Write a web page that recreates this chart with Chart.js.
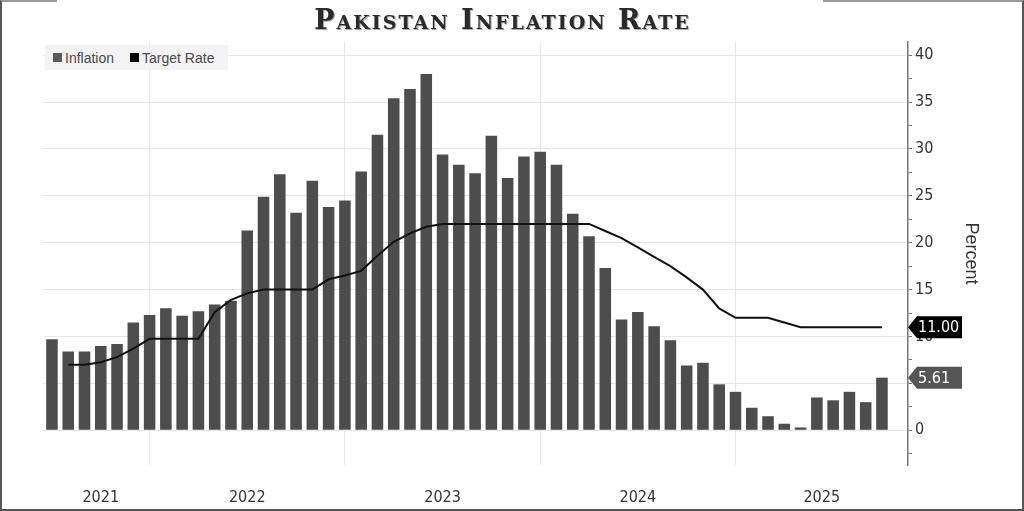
<!DOCTYPE html>
<html>
<head>
<meta charset="utf-8">
<title>Pakistan Inflation Rate</title>
<script src="https://cdn.jsdelivr.net/npm/chart.js@4.4.1/dist/chart.umd.min.js"></script>
<style>
  html, body { margin: 0; padding: 0; background: #fff; }
  #wrap { position: relative; width: 1024px; height: 511px; overflow: hidden; }
  #frame {
    position: absolute; left: 0; top: 0; width: 1024px; height: 511px; box-sizing: border-box;
    border: 2px solid #555; border-top-color: #999; pointer-events: none;
  }
  #gap { position: absolute; left: 57px; top: 0; width: 766px; height: 3px; background: #fff; }
  #title {
    position: absolute; left: 0; top: 4px; width: 1005px; text-align: center;
    font: bold 27px 'DejaVu Serif', serif; font-variant: small-caps; color: #2a2a2a;
    letter-spacing: 2px; text-shadow: 1px 1px 0 #aaa;
  }
  #legend {
    position: absolute; left: 45px; top: 45px; width: 183px; height: 25px;
    background: #f3f3f3; font: 14px 'Liberation Sans', Arial, sans-serif; color: #4a4a4a;
    display: flex; align-items: center;
  }
  #legend span.sw { display: inline-block; width: 9px; height: 9px; margin: 0 3px 0 8px; }
</style>
</head>
<body>
<div id="wrap">
  <canvas id="chart"></canvas>
  <div id="title">Pakistan Inflation Rate</div>
  <div id="legend">
    <span class="sw" style="background:#5a5a5a"></span>Inflation
    <span class="sw" style="background:#000; margin-left:16px"></span>Target Rate
  </div>
  <div id="frame"></div>
  <div id="gap"></div>
</div>
<script>
const months = [
  '2021-06', '2021-07', '2021-08', '2021-09', '2021-10', '2021-11', '2021-12',
  '2022-01', '2022-02', '2022-03', '2022-04', '2022-05', '2022-06', '2022-07', '2022-08', '2022-09', '2022-10', '2022-11', '2022-12',
  '2023-01', '2023-02', '2023-03', '2023-04', '2023-05', '2023-06', '2023-07', '2023-08', '2023-09', '2023-10', '2023-11', '2023-12',
  '2024-01', '2024-02', '2024-03', '2024-04', '2024-05', '2024-06', '2024-07', '2024-08', '2024-09', '2024-10', '2024-11', '2024-12',
  '2025-01', '2025-02', '2025-03', '2025-04', '2025-05', '2025-06', '2025-07', '2025-08', '2025-09'
];

// YoY CPI, percent
const inflation = [
  9.7, 8.4, 8.4, 9.0, 9.2, 11.5, 12.3,
  13.0, 12.2, 12.7, 13.4, 13.8, 21.3, 24.9, 27.3, 23.2, 26.6, 23.8, 24.5,
  27.6, 31.5, 35.4, 36.4, 38.0, 29.4, 28.3, 27.4, 31.4, 26.9, 29.2, 29.7,
  28.3, 23.1, 20.7, 17.3, 11.8, 12.6, 11.1, 9.6, 6.9, 7.2, 4.9, 4.1,
  2.4, 1.5, 0.7, 0.3, 3.5, 3.2, 4.1, 3.0, 5.61
];

// SBP policy rate, percent
const targetRate = [
  null, 7.0, 7.0, 7.25, 7.8, 8.7, 9.75,
  9.75, 9.75, 9.75, 12.6, 13.9, 14.6, 15, 15, 15, 15, 16.1, 16.5,
  17, 18.6, 20.1, 21, 21.7, 22, 22, 22, 22, 22, 22, 22,
  22, 22, 22, 21.25, 20.5, 19.5, 18.5, 17.5, 16.3, 15, 13, 12,
  12, 12, 11.5, 11, 11, 11, 11, 11, 11
];

const xMin = -0.55, xMax = 52.6;

// year boundaries sit on the December bars
const decIdx = months.map((m, i) => m.endsWith('-12') ? i : -1).filter(i => i >= 0);
const years = [...new Set(months.map(m => m.slice(0, 4)))];
const bounds = [0, ...decIdx, xMax];
const yearTicks = years.map((y, i) => ({ value: (bounds[i] + bounds[i + 1]) / 2, year: y }));

const tickFont = { family: "'DejaVu Sans Condensed', 'Liberation Sans', sans-serif", size: 16 };

const lastValueTags = {
  id: 'lastValueTags',
  afterDraw(chart) {
    const { ctx, chartArea } = chart;
    const yScale = chart.scales.y;
    const tags = [
      { v: targetRate[targetRate.length - 1], bg: '#000' },
      { v: inflation[inflation.length - 1], bg: '#555' }
    ];
    ctx.save();
    ctx.font = "16px 'DejaVu Sans Condensed', 'Liberation Sans', sans-serif";
    ctx.textBaseline = 'middle';
    tags.forEach(t => {
      const x = chartArea.right, y = yScale.getPixelForValue(t.v);
      ctx.fillStyle = t.bg;
      ctx.beginPath();
      ctx.moveTo(x, y);
      ctx.lineTo(x + 9, y - 11);
      ctx.lineTo(x + 54, y - 11);
      ctx.lineTo(x + 54, y + 11);
      ctx.lineTo(x + 9, y + 11);
      ctx.closePath();
      ctx.fill();
      ctx.fillStyle = '#fff';
      ctx.fillText(t.v.toFixed(2), x + 10, y + 1);
    });
    ctx.restore();
  }
};

new Chart(document.getElementById('chart'), {
  data: {
    datasets: [{
      type: 'line',
      label: 'Target Rate',
      data: targetRate.map((v, i) => ({ x: i, y: v })),
      borderColor: '#111',
      borderWidth: 2,
      pointRadius: 0,
      tension: 0,
      order: 0
    }, {
      type: 'bar',
      label: 'Inflation',
      data: inflation.map((v, i) => ({ x: i, y: v })),
      backgroundColor: '#4d4d4d',
      categoryPercentage: 1,
      barPercentage: 0.71,
      order: 1
    }]
  },
  options: {
    responsive: true,
    maintainAspectRatio: false,
    animation: false,
    layout: { padding: { left: 43, right: 38, top: 42, bottom: 2 } },
    plugins: {
      legend: { display: false },
      tooltip: { enabled: false }
    },
    scales: {
      x: {
        type: 'linear',
        min: xMin,
        max: xMax,
        offset: false,
        afterBuildTicks: (axis) => {
          axis.ticks = [...decIdx.map(v => ({ value: v })), ...yearTicks.map(t => ({ value: t.value }))]
            .sort((a, b) => a.value - b.value);
        },
        afterFit: (axis) => { axis.height = 44; },
        ticks: {
          autoSkip: false,
          maxRotation: 0,
          padding: 23,
          color: '#333',
          font: tickFont,
          callback: (value) => {
            const t = yearTicks.find(t => Math.abs(t.value - value) < 1e-6);
            return t ? t.year : '';
          }
        },
        grid: {
          offset: false,
          drawTicks: false,
          color: (c) => (c.tick && decIdx.includes(c.tick.value)) ? '#e6e6e6' : 'rgba(0,0,0,0)'
        },
        border: { display: false }
      },
      y: {
        position: 'right',
        min: -3.7,
        max: 41.4,
        afterFit: (axis) => { axis.width = 78; },
        ticks: {
          stepSize: 2.5,
          includeBounds: false,
          autoSkip: false,
          padding: 3,
          color: '#333',
          font: tickFont,
          callback: (v) => (v % 5 === 0) ? v : ''
        },
        grid: {
          color: (c) => (c.tick && c.tick.value % 5 === 0) ? '#e6e6e6' : 'rgba(0,0,0,0)',
          tickColor: '#777',
          tickLength: 4
        },
        border: { display: true, color: '#777', width: 1.5 },
        title: {
          display: true,
          text: 'Percent',
          color: '#333',
          font: { family: "'Liberation Sans', sans-serif", size: 18 },
          padding: { top: 4, bottom: 27 }
        }
      }
    }
  },
  plugins: [lastValueTags]
});
</script>
</body>
</html>
